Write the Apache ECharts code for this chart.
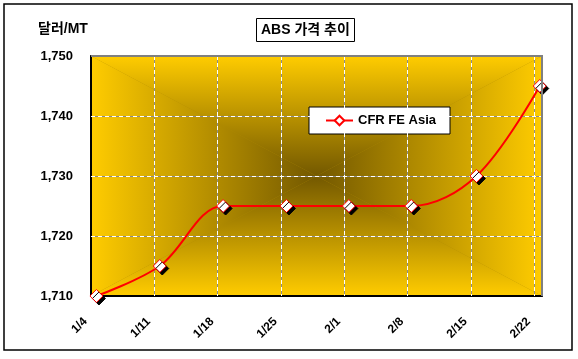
<!DOCTYPE html>
<html>
<head>
<meta charset="utf-8">
<script src="https://cdn.jsdelivr.net/npm/echarts@6/dist/echarts.min.js"></script>
<style>
html,body{margin:0;padding:0;background:#fff;}
#c{width:578px;height:359px;}
</style>
</head>
<body>
<div id="c"></div>
<script>
// ---- data ----
const categories = ['1/4', '1/11', '1/18', '1/25', '2/1', '2/8', '2/15', '2/22'];
// day position of each observation (days after the 1/4 gridline)
const pointDay = [0.6, 7.6, 14.6, 21.6, 28.5, 35.4, 42.6, 49.6];
const prices = [1710, 1715, 1725, 1725, 1725, 1725, 1730, 1745];
const yTicks = [1710, 1720, 1730, 1740, 1750];
const seriesName = 'CFR FE Asia';
const titleText = 'ABS 가격 추이';
const unitText = '달러/MT';

// ---- layout ----
const W = 578, H = 359;
const G = { left: 91, top: 56, right: 36, bottom: 63 };
const x0 = G.left, y0 = G.top, x1 = W - G.right, y1 = H - G.bottom;
const cx = (x0 + x1) / 2, cy = (y0 + y1) / 2;
const EDGE = '#FFCC00', CENTER = '#735800';
const FONT = '"Liberation Sans", Arial, "Noto Sans CJK KR", sans-serif';

function lg(xa, ya, xb, yb) {
  return { type: 'linear', x: xa, y: ya, x2: xb, y2: yb,
    colorStops: [{ offset: 0, color: EDGE }, { offset: 1, color: CENTER }] };
}
const noEnds = { showMinLine: false, showMaxLine: false };

const chart = echarts.init(document.getElementById('c'), null, { renderer: 'canvas' });
const seriesData = prices.map((v, i) => [pointDay[i], v]);

chart.setOption({
  animation: false,
  backgroundColor: '#fff',
  textStyle: { fontFamily: FONT },
  title: {
    text: titleText,
    left: 256, top: 18,
    padding: [4, 5, 4, 5],
    borderColor: '#000', borderWidth: 1, backgroundColor: '#fff',
    textStyle: { fontSize: 14, fontWeight: 'bold', color: '#000', fontFamily: FONT, lineHeight: 16 }
  },
  legend: {
    data: [seriesName],
    left: 309, top: 107,
    padding: [7, 14, 7, 16],
    itemWidth: 27, itemHeight: 12, itemGap: 5,
    backgroundColor: '#fff', borderColor: '#000', borderWidth: 1,
    itemStyle: { shadowColor: 'rgba(0,0,0,0)', shadowOffsetX: 0, shadowOffsetY: 0 },
    textStyle: { fontSize: 13, fontWeight: 'bold', color: '#000', fontFamily: FONT }
  },
  grid: {
    left: G.left, top: G.top, right: G.right, bottom: G.bottom,
    show: true, backgroundColor: 'transparent', borderColor: '#808080', borderWidth: 2
  },
  xAxis: [{
    type: 'value', min: 0, max: 49.85, interval: 7, z: 3,
    axisLine: { show: true, onZero: false, lineStyle: { color: '#000', width: 2 } },
    axisTick: { show: false },
    splitLine: Object.assign({ show: true, lineStyle: { color: '#8c8c8c', width: 1 } }, noEnds),
    axisLabel: {
      rotate: 45, margin: 18, padding: [0, 8, 0, 0],
      fontSize: 12, fontWeight: 'bold', color: '#000', fontFamily: FONT,
      showMaxLabel: false,
      formatter: v => (v % 7 === 0 ? (categories[v / 7] || '') : '')
    }
  }, {
    type: 'value', min: 0, max: 49.85, interval: 7, position: 'top', z: 4,
    axisLine: { show: false }, axisTick: { show: false }, axisLabel: { show: false },
    splitLine: Object.assign({ show: true, lineStyle: { color: '#ffffff', width: 1, type: [4, 3] } }, noEnds)
  }],
  yAxis: [{
    type: 'value', min: yTicks[0], max: yTicks[yTicks.length - 1], interval: 10, z: 3,
    axisLine: { show: true, onZero: false, lineStyle: { color: '#000', width: 2 } },
    axisTick: { show: false },
    splitLine: Object.assign({ show: true, lineStyle: { color: '#8c8c8c', width: 1 } }, noEnds),
    axisLabel: {
      margin: 18, fontSize: 13, fontWeight: 'bold', color: '#000', fontFamily: FONT,
      formatter: v => v.toLocaleString('en-US')
    }
  }, {
    type: 'value', min: yTicks[0], max: yTicks[yTicks.length - 1], interval: 10, z: 4,
    axisLine: { show: false }, axisTick: { show: false }, axisLabel: { show: false },
    splitLine: Object.assign({ show: true, lineStyle: { color: '#ffffff', width: 1, type: [4, 3] } }, noEnds)
  }],
  graphic: [
    { type: 'rect', z: -20, silent: true, shape: { x: x0, y: y0, width: x1 - x0, height: y1 - y0 }, style: { fill: '#B08A00' } },
    { type: 'polygon', z: -10, silent: true, shape: { points: [[x0, y0], [x1, y0], [cx, cy]] }, style: { fill: lg(0, 0, 0, 1) } },
    { type: 'polygon', z: -10, silent: true, shape: { points: [[x0, y1], [x1, y1], [cx, cy]] }, style: { fill: lg(0, 1, 0, 0) } },
    { type: 'polygon', z: -10, silent: true, shape: { points: [[x0, y0], [x0, y1], [cx, cy]] }, style: { fill: lg(0, 0, 1, 0) } },
    { type: 'polygon', z: -10, silent: true, shape: { points: [[x1, y0], [x1, y1], [cx, cy]] }, style: { fill: lg(1, 0, 0, 0) } },
    { type: 'polyline', z: 40, silent: true, shape: { points: [[x0, y0], [x1, y0], [x1, y1]] }, style: { fill: 'none', stroke: '#808080', lineWidth: 2 } },
    { type: 'rect', z: 50, silent: true, shape: { x: 4, y: 4, width: 568, height: 346 }, style: { fill: 'none', stroke: '#000', lineWidth: 1.5 } },
    { type: 'text', z: 50, silent: true, left: 38, top: 22,
      style: { text: unitText, fontSize: 14, fontWeight: 'bold', fill: '#000', fontFamily: FONT } }
  ],
  series: [{
    name: seriesName,
    type: 'line',
    xAxisIndex: 0, yAxisIndex: 0,
    data: seriesData,
    smooth: 0.35,
    symbol: 'diamond',
    symbolSize: 13,
    lineStyle: { color: '#FF0000', width: 2 },
    itemStyle: { color: '#ffffff', borderColor: '#FF0000', borderWidth: 1,
      shadowColor: '#000', shadowOffsetX: 2.5, shadowOffsetY: 2.5, shadowBlur: 0 },
    z: 5
  }]
});
</script>
</body>
</html>
